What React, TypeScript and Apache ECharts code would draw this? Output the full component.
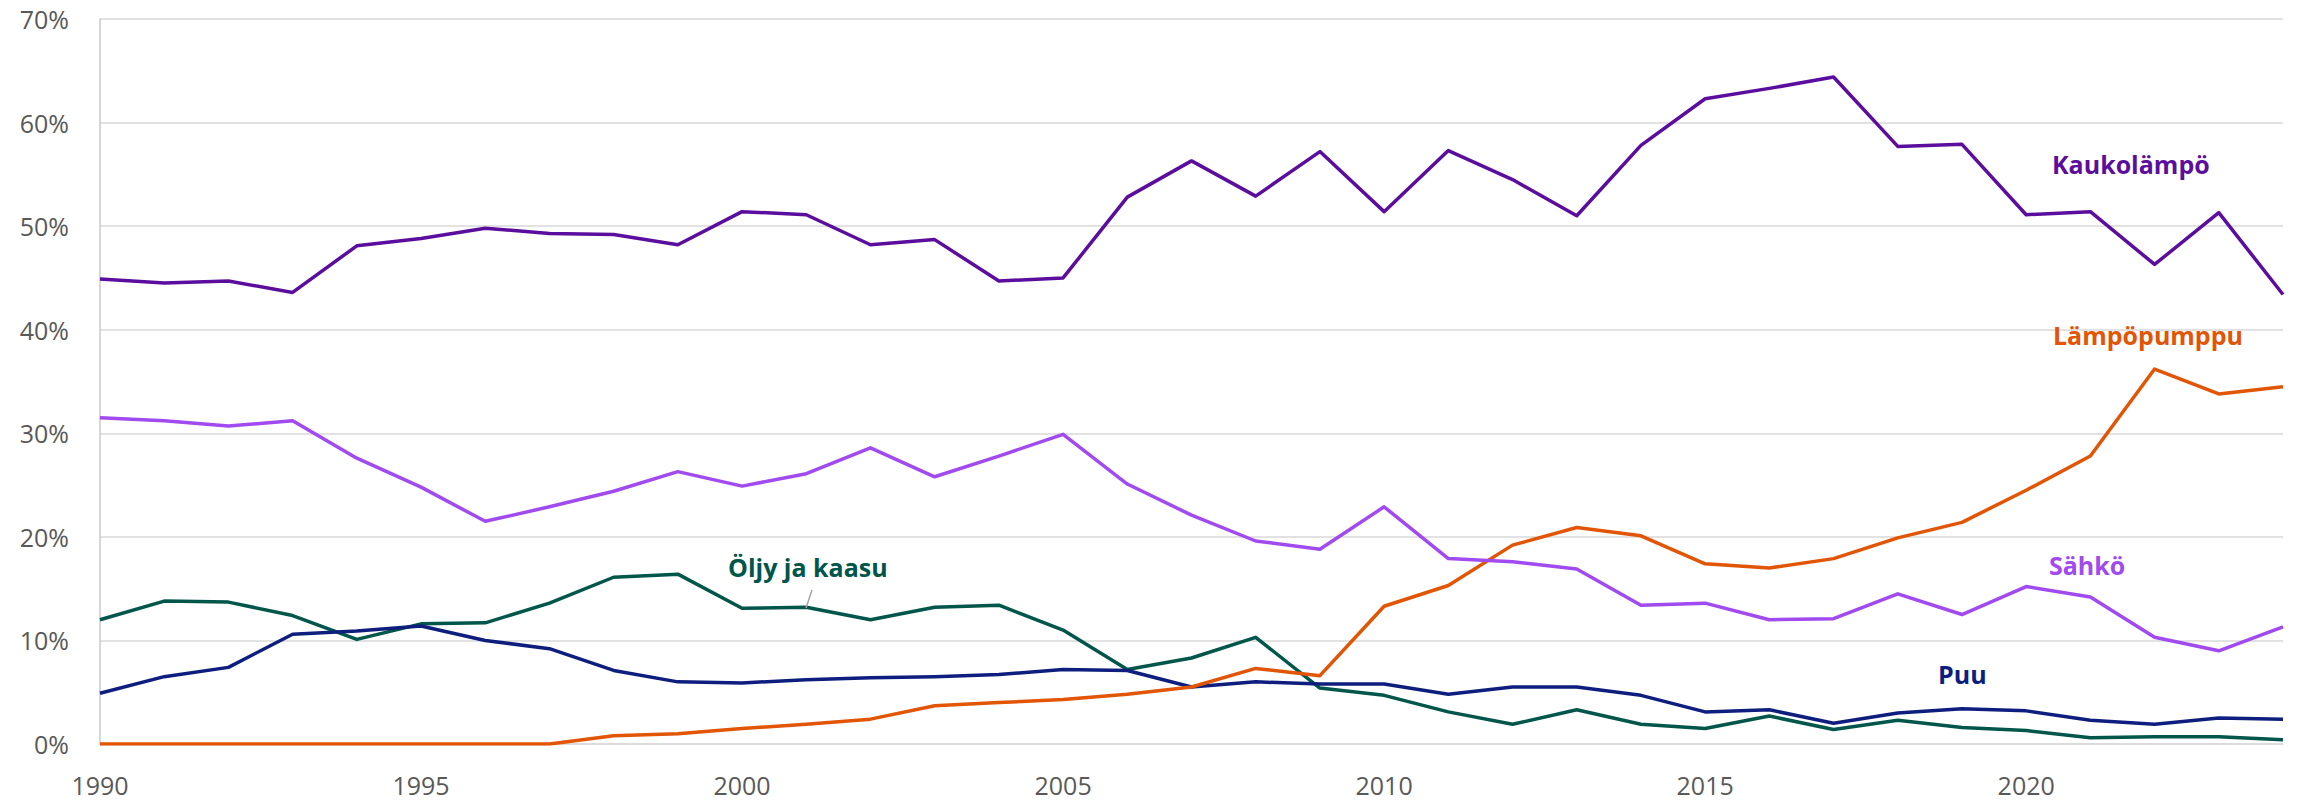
import React, { useEffect, useRef } from "react";
import * as echarts from "echarts";

const years: string[] = [];
for (let y = 1990; y <= 2024; y++) years.push(String(y));

const kaukolampo = [44.9, 44.5, 44.7, 43.6, 48.1, 48.8, 49.8, 49.3, 49.2, 48.2, 51.4, 51.1, 48.2, 48.7, 44.7, 45.0, 52.8, 56.3, 52.9, 57.2, 51.4, 57.3, 54.5, 51.0, 57.8, 62.3, 63.3, 64.4, 57.7, 57.9, 51.1, 51.4, 46.3, 51.3, 43.4];
const sahko = [31.5, 31.2, 30.7, 31.2, 27.6, 24.8, 21.5, 22.9, 24.4, 26.3, 24.9, 26.1, 28.6, 25.8, 27.8, 29.9, 25.1, 22.1, 19.6, 18.8, 22.9, 17.9, 17.6, 16.9, 13.4, 13.6, 12.0, 12.1, 14.5, 12.5, 15.2, 14.2, 10.3, 9.0, 11.3];
const oljyJaKaasu = [12.0, 13.8, 13.7, 12.4, 10.1, 11.6, 11.7, 13.6, 16.1, 16.4, 13.1, 13.2, 12.0, 13.2, 13.4, 11.0, 7.2, 8.3, 10.3, 5.4, 4.7, 3.1, 1.9, 3.3, 1.9, 1.5, 2.7, 1.4, 2.3, 1.6, 1.3, 0.6, 0.7, 0.7, 0.4];
const puu = [4.9, 6.5, 7.4, 10.6, 10.9, 11.4, 10.0, 9.2, 7.1, 6.0, 5.9, 6.2, 6.4, 6.5, 6.7, 7.2, 7.1, 5.5, 6.0, 5.8, 5.8, 4.8, 5.5, 5.5, 4.7, 3.1, 3.3, 2.0, 3.0, 3.4, 3.2, 2.3, 1.9, 2.5, 2.4];
const lampopumppu = [0, 0, 0, 0, 0, 0, 0, 0, 0.8, 1.0, 1.5, 1.9, 2.4, 3.7, 4.0, 4.3, 4.8, 5.5, 7.3, 6.6, 13.3, 15.3, 19.2, 20.9, 20.1, 17.4, 17.0, 17.9, 19.9, 21.4, 24.5, 27.8, 36.2, 33.8, 34.5];

const C_KAUKO = "#5B0E9D";
const C_SAHKO = "#A04AF0";
const C_OLJY = "#00564A";
const C_PUU = "#0E1E7E";
const C_LP = "#E25505";

const FONT = "'Open Sans', 'Liberation Sans', sans-serif";

export default function App() {
  const ref = useRef<HTMLDivElement>(null);
  useEffect(() => {
    if (!ref.current) return;
    const chart = echarts.init(ref.current, undefined, { renderer: "svg" });
    const mk = (name: string, data: number[], color: string, z: number) => ({
      name,
      type: "line",
      data,
      symbol: "none",
      z,
      lineStyle: { color, width: 3.5, join: "round" },
      itemStyle: { color },
    });
    const label = (text: string, x: number, y: number, color: string) => ({
      type: "text",
      x,
      y,
      style: {
        text,
        fill: color,
        font: `bold 25px ${FONT}`,
        textVerticalAlign: "middle",
        verticalAlign: "middle",
      },
      z: 100,
    });
    chart.setOption({
      animation: false,
      grid: { left: 100, right: 22, top: 19, bottom: 58, containLabel: false },
      xAxis: {
        type: "category",
        data: years,
        boundaryGap: false,
        axisLine: { show: true, lineStyle: { color: "#D9D9D9", width: 1.5 } },
        axisTick: { show: false },
        axisLabel: {
          interval: (i: number) => i % 5 === 0,
          color: "#595959",
          fontSize: 25,
          fontFamily: FONT,
          margin: 28,
        },
        splitLine: { show: false },
      },
      yAxis: {
        type: "value",
        min: 0,
        max: 70,
        interval: 10,
        axisLine: { show: true, lineStyle: { color: "#C8C8C8", width: 1.5 } },
        axisTick: { show: false },
        axisLabel: {
          formatter: "{value}%",
          color: "#595959",
          fontSize: 25,
          fontFamily: FONT,
          margin: 31,
        },
        splitLine: { show: true, lineStyle: { color: "#D9D9D9", width: 1.5 } },
      },
      series: [
        mk("Öljy ja kaasu", oljyJaKaasu, C_OLJY, 2),
        mk("Puu", puu, C_PUU, 3),
        mk("Lämpöpumppu", lampopumppu, C_LP, 4),
        mk("Sähkö", sahko, C_SAHKO, 5),
        mk("Kaukolämpö", kaukolampo, C_KAUKO, 6),
      ],
      graphic: [
        label("Kaukolämpö", 2052, 164, C_KAUKO),
        label("Lämpöpumppu", 2053, 335, C_LP),
        label("Sähkö", 2049, 565, C_SAHKO),
        label("Puu", 1938, 674, C_PUU),
        label("Öljy ja kaasu", 728, 567, C_OLJY),
        {
          type: "line",
          shape: { x1: 812, y1: 590, x2: 806, y2: 608 },
          style: { stroke: "#A6A6A6", lineWidth: 1.5 },
          z: 100,
        },
      ],
    });
    return () => chart.dispose();
  }, []);
  return (
    <div
      ref={ref}
      style={{ position: "fixed", left: 0, top: 0, width: 2305, height: 802, background: "#fff" }}
    />
  );
}
